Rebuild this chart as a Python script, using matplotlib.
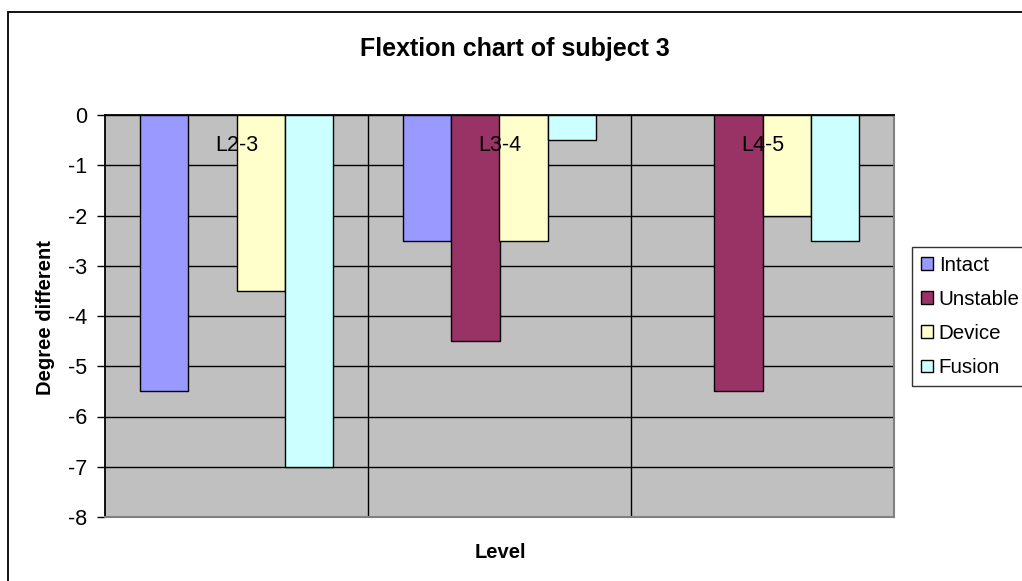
import numpy as np
import matplotlib
matplotlib.use("Agg")
import matplotlib.pyplot as plt
from matplotlib.patches import Rectangle, Patch

plt.rcParams['font.family'] = ['Liberation Sans', 'DejaVu Sans']

levels = ["L2-3", "L3-4", "L4-5"]
series = ["Intact", "Unstable", "Device", "Fusion"]
intact = [-5.5, -2.5, np.nan]
unstable = [np.nan, -4.5, -5.5]
device = [-3.5, -2.5, -2.0]
fusion = [-7.0, -0.5, -2.5]
values = [intact, unstable, device, fusion]
colors = ["#9999FF", "#993366", "#FFFFCC", "#CCFFFF"]
yticks = [0, -1, -2, -3, -4, -5, -6, -7, -8]

W, H = 1022, 581
FS = 15.5
fig = plt.figure(figsize=(W / 100, H / 100), dpi=100)

# outer chart border
fig.patches.append(Rectangle((8 / W, -0.1), 1.2, 1 - 12 / H + 0.1,
                             transform=fig.transFigure, fill=False,
                             edgecolor="black", linewidth=1.3))

ax = fig.add_axes([105 / W, 1 - 517 / H, (894 - 105) / W, (517 - 115) / H])
ax.set_facecolor("#C0C0C0")

x = np.arange(len(levels))
bw = 0.183
for i, (name, vals, col) in enumerate(zip(series, values, colors)):
    offs = (i - 1.5) * bw
    ax.bar(x + offs, vals, width=bw, color=col, edgecolor="black",
           linewidth=1.0, label=name, zorder=3)

ax.set_xlim(-0.5, len(levels) - 0.5)
ax.set_ylim(-8, 0)
ax.set_yticks(yticks)
ax.set_yticklabels([str(t) for t in yticks])
ax.tick_params(axis="y", length=6, width=1, pad=7, labelsize=FS, color="black")
ax.set_xticks([])

# horizontal gridlines and category dividers
for t in yticks:
    ax.axhline(t, color="black", linewidth=1.0, zorder=1)
for b in np.arange(0.5, len(levels) - 0.5, 1):
    ax.axvline(b, color="black", linewidth=1.0, zorder=1)

# category labels sit just under the zero line
for xi, lab in zip(x, levels):
    ax.text(xi, 0.923, lab, transform=ax.get_xaxis_transform(),
            ha="center", va="center", fontsize=FS, zorder=5)

ax.spines["left"].set_color("black")
ax.spines["left"].set_linewidth(1.3)
ax.spines["top"].set_color("black")
ax.spines["top"].set_linewidth(1.3)
for s in ("right", "bottom"):
    ax.spines[s].set_color("#808080")
    ax.spines[s].set_linewidth(1.5)

fig.text(46 / W, 1 - 318 / H, "Degree different", rotation=90, ha="center",
         va="center", fontsize=14.5, fontweight="bold")
fig.text(500 / W, 1 - 552 / H, "Level", ha="center", va="center",
         fontsize=14.5, fontweight="bold")
fig.text(515 / W, 1 - 49 / H, "Flextion chart of subject 3", ha="center",
         va="center", fontsize=18, fontweight="bold")

handles = [Patch(facecolor=c, edgecolor="black", linewidth=1.0) for c in colors]
leg = fig.legend(handles, series, loc="upper left",
                 bbox_to_anchor=(912 / W, 1 - 247 / H), frameon=True,
                 fancybox=False, edgecolor="black", fontsize=14.8,
                 handlelength=0.58, handleheight=0.58, handletextpad=0.3,
                 labelspacing=0.74, borderpad=0.42, borderaxespad=0)
leg.get_frame().set_linewidth(1.0)

fig.savefig("out.png", dpi=100, facecolor="white")
